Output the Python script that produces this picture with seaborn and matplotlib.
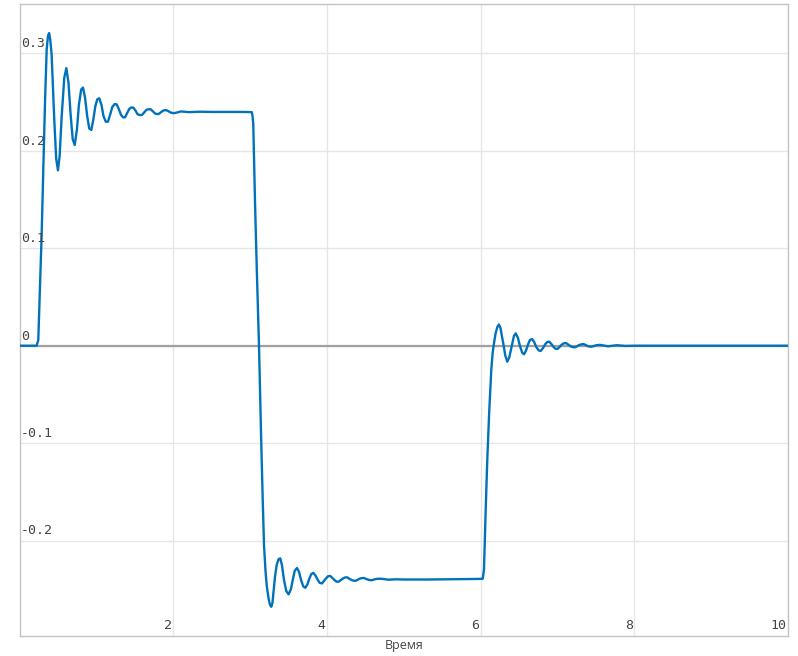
import matplotlib
matplotlib.use("Agg")
import matplotlib.pyplot as plt
import seaborn as sns
import pandas as pd

# values (time, response)
t_rise = [0.0, 0.22, 0.242, 0.264, 0.286, 0.307, 0.329, 0.351, 0.368, 0.383, 0.398, 0.416,
          0.45, 0.475, 0.498, 0.52, 0.546, 0.58, 0.607, 0.635, 0.662, 0.69, 0.716, 0.745,
          0.77, 0.80, 0.824, 0.85, 0.878, 0.905, 0.932, 0.958, 0.985, 1.01, 1.036, 1.065,
          1.09, 1.12, 1.149, 1.18, 1.205, 1.235, 1.262, 1.29, 1.318, 1.345, 1.371, 1.40,
          1.425, 1.45, 1.479, 1.51, 1.535, 1.565, 1.592, 1.62, 1.65, 1.68, 1.705, 1.735,
          1.76, 1.785, 1.809, 1.835, 1.86, 1.885, 1.913, 1.94, 1.97, 2.0, 2.02, 2.1, 2.2,
          2.35, 2.5, 2.7, 2.9, 3.02]
y_rise = [0.0, 0.0, 0.006, 0.061, 0.115, 0.180, 0.249, 0.304, 0.318, 0.321, 0.314, 0.298,
          0.232, 0.192, 0.180, 0.195, 0.235, 0.275, 0.285, 0.270, 0.238, 0.212, 0.206, 0.222,
          0.247, 0.263, 0.265, 0.255, 0.236, 0.223, 0.2215, 0.232, 0.246, 0.253, 0.254, 0.247,
          0.236, 0.230, 0.230, 0.238, 0.245, 0.248, 0.2478, 0.243, 0.237, 0.2345, 0.2345, 0.239,
          0.243, 0.2445, 0.2444, 0.241, 0.2375, 0.2368, 0.2369, 0.2395, 0.2422, 0.2428, 0.2427, 0.2405,
          0.2385, 0.2378, 0.2379, 0.2395, 0.241, 0.2418, 0.2417, 0.2405, 0.2392, 0.2388, 0.2389, 0.2405, 0.2398,
          0.2402, 0.2400, 0.2400, 0.2400, 0.2398]

t_fall = [3.03, 3.04, 3.062, 3.085, 3.115, 3.141, 3.163, 3.18, 3.20, 3.215, 3.24, 3.258,
          3.275, 3.29, 3.31, 3.323, 3.345, 3.37, 3.392, 3.415, 3.44, 3.47, 3.50, 3.53,
          3.555, 3.58, 3.609, 3.635, 3.66, 3.69, 3.717, 3.745, 3.77, 3.795, 3.821, 3.85,
          3.88, 3.905, 3.935, 3.96, 3.99, 4.015, 4.043, 4.07, 4.10, 4.125, 4.152, 4.18,
          4.21, 4.235, 4.264, 4.29, 4.32, 4.345, 4.373, 4.40, 4.43, 4.46, 4.485, 4.51,
          4.54, 4.57, 4.594, 4.62, 4.65, 4.703, 4.8, 4.9, 5.0, 5.3, 5.6, 5.9, 6.026]
y_fall = [0.236, 0.228, 0.150, 0.081, -0.001, -0.090, -0.158, -0.205, -0.232, -0.246, -0.260, -0.266,
          -0.268, -0.264, -0.248, -0.237, -0.225, -0.219, -0.2183, -0.226, -0.2405, -0.252, -0.2552, -0.250,
          -0.240, -0.231, -0.2282, -0.232, -0.240, -0.247, -0.2485, -0.245, -0.239, -0.2345, -0.2331, -0.236,
          -0.2405, -0.2435, -0.244, -0.2415, -0.2385, -0.2366, -0.2364, -0.2385, -0.2408, -0.2422, -0.2423, -0.2405,
          -0.2388, -0.2379, -0.2378, -0.2392, -0.2405, -0.2412, -0.2413, -0.2402, -0.239, -0.2385, -0.2385, -0.2395,
          -0.2403, -0.2407, -0.2406, -0.2398, -0.2393, -0.2392, -0.2402, -0.2398, -0.2400, -0.2400, -0.2398, -0.2395, -0.2393]

t_back = [6.043, 6.065, 6.086, 6.112, 6.138, 6.155, 6.173, 6.195, 6.218, 6.238, 6.258, 6.278,
          6.294, 6.32, 6.346, 6.372, 6.403, 6.433, 6.456, 6.485, 6.51, 6.54, 6.564, 6.59,
          6.615, 6.64, 6.668, 6.695, 6.725, 6.755, 6.781, 6.81, 6.84, 6.865, 6.893, 6.92,
          6.945, 6.97, 6.997, 7.025, 7.05, 7.08, 7.11, 7.14, 7.17, 7.2, 7.227, 7.255,
          7.28, 7.31, 7.336, 7.365, 7.39, 7.42, 7.445, 7.5, 7.55, 7.66, 7.77, 7.88, 8.0, 9.0, 10.0]
y_back = [-0.230, -0.169, -0.117, -0.066, -0.025, -0.008, 0.0025, 0.013, 0.0195, 0.0218, 0.018, 0.009,
          0.0025, -0.010, -0.0164, -0.012, -0.001, 0.010, 0.0127, 0.008, 0.000, -0.007, -0.0088, -0.005,
          0.001, 0.0058, 0.0069, 0.004, -0.0015, -0.0048, -0.0054, -0.0025, 0.0015, 0.0038, 0.0041, 0.0018,
          -0.001, -0.0029, -0.0034, -0.0015, 0.0008, 0.0024, 0.0028, 0.0012, -0.0006, -0.0015, -0.0016, -0.0006,
          0.0006, 0.0014, 0.0017, 0.0008, -0.0003, -0.0009, -0.001, 0.0004, 0.0009, -0.0006, 0.0005, -0.0002, 0.0, 0.0, 0.0]

x_ticks = [2, 4, 6, 8, 10]
x_labels = ["2", "4", "6", "8", "10"]
y_ticks = [-0.2, -0.1, 0.0, 0.1, 0.2, 0.3]
y_labels = ["-0.2", "-0.1", "0", "0.1", "0.2", "0.3"]

df = pd.DataFrame({"t": t_rise + t_fall + t_back, "y": y_rise + y_fall + y_back})

sns.set_style("white")
W, H = 798, 656
fig = plt.figure(figsize=(W / 100, H / 100), dpi=100)
L, R, T, B = 19.7, 788, 4, 636
ax = fig.add_axes([L / W, (H - B) / H, (R - L) / W, (B - T) / H])

ax.set_xlim(0, 10)
ax.set_ylim(-0.298, 0.3508)
ax.set_xticks(x_ticks)
ax.set_yticks(y_ticks)
ax.grid(True, color="#e6e6e6", linewidth=1.0)
ax.tick_params(length=0, labelbottom=False, labelleft=False)
for s in ax.spines.values():
    s.set_color("#c4c4c4")
    s.set_linewidth(1.0)

ax.axhline(0, color="#a0a0a0", linewidth=1.6, zorder=1.5)

sns.lineplot(data=df, x="t", y="y", ax=ax, color="#0072bd", linewidth=1.7,
             sort=False, estimator=None, zorder=3)
ax.set_xlabel("")
ax.set_ylabel("")

mono = dict(family="DejaVu Sans Mono", fontsize=9.5, color="#444444")
for v, lab in zip(y_ticks, y_labels):
    ax.annotate(lab, xy=(0, v), xycoords=("axes fraction", "data"),
                xytext=(1.0, 2.2), textcoords="offset points",
                ha="left", va="bottom", **mono)
for v, lab in zip(x_ticks, x_labels):
    ax.annotate(lab, xy=(v, 0), xycoords=("data", "axes fraction"),
                xytext=(-1.2, 3.0), textcoords="offset points",
                ha="right", va="bottom", **mono)

fig.text(404 / W, 1 - 646 / H, "Время", ha="center", va="center",
         family="Open Sans", fontsize=9, color="#444444")

fig.savefig("out.png", dpi=100)
